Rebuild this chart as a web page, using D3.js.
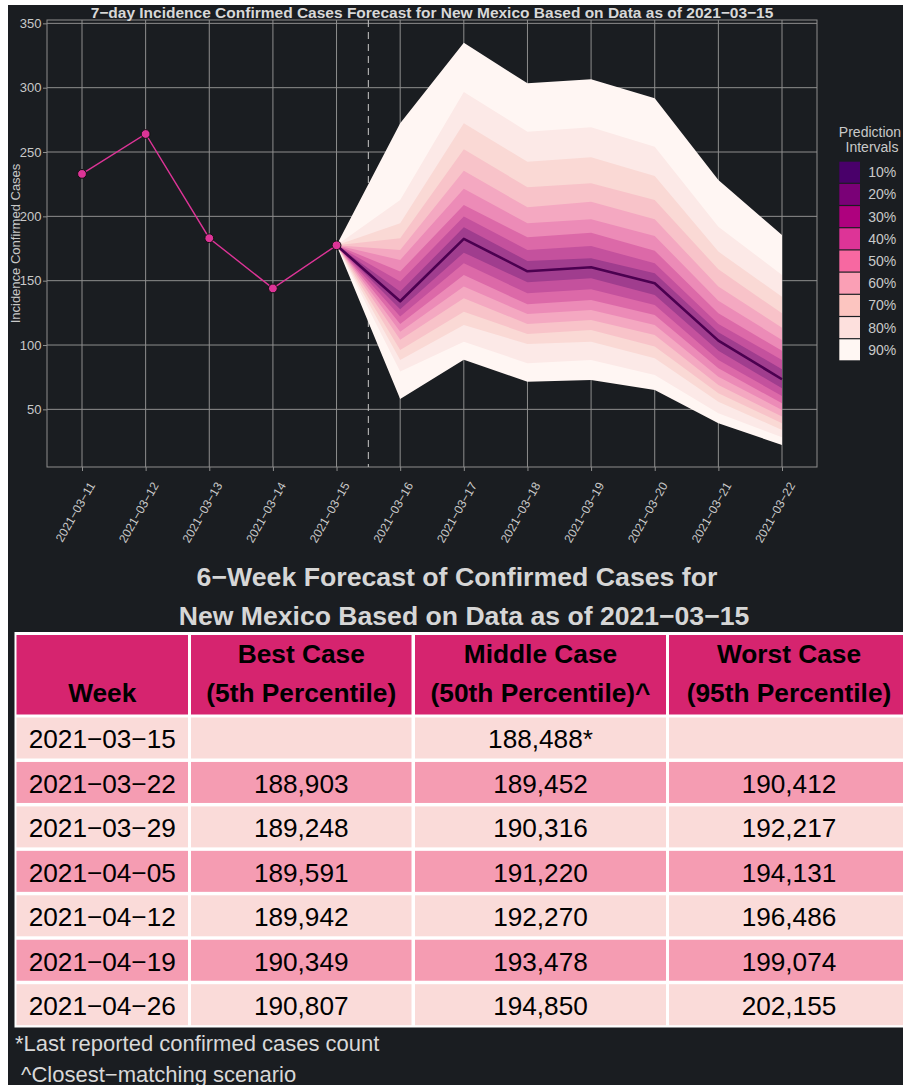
<!DOCTYPE html>
<html><head><meta charset="utf-8">
<script src="https://cdn.jsdelivr.net/npm/d3@7"></script>
<style>
html,body{margin:0;padding:0;background:#fff;}
svg{display:block;font-family:"Liberation Sans",Arial,Helvetica,sans-serif;}
</style></head><body>
<svg id="c" width="903" height="1085"></svg>
<script>
// ---------- chart data ----------
const obsDates = ["2021-03-11","2021-03-12","2021-03-13","2021-03-14","2021-03-15"];
const obsValues = [233, 264, 183, 144, 177.5];
const fcDates = ["2021-03-16","2021-03-17","2021-03-18","2021-03-19","2021-03-20","2021-03-21","2021-03-22"];
const fcMedian = [134, 182.5, 157.3, 160.4, 148, 103.4, 73.4];
const upper10 = [141.5, 191.5, 165.3, 167.4, 155.7, 109.9, 81.2];
const upper20 = [149.3, 199.8, 173.9, 177.0, 163.5, 116.4, 88.4];
const upper30 = [157.1, 208.8, 183.7, 187.3, 173.3, 124.6, 95.6];
const upper40 = [166.1, 221.5, 194.6, 197.7, 184.7, 134.5, 103.9];
const upper50 = [173.9, 235.5, 207.0, 211.4, 197.7, 145.4, 113.5];
const upper60 = [183.0, 252.1, 222.6, 225.7, 212.7, 158.8, 124.6];
const upper70 = [194.6, 272.3, 242.5, 245.9, 231.4, 172.6, 137.6];
const upper80 = [212.8, 296.6, 265.8, 269.2, 254.1, 192.0, 154.4];
const upper90 = [272.3, 335.0, 303.4, 306.5, 291.7, 228.3, 185.5];
const lower10 = [127.8, 171.8, 148.7, 151.8, 138.9, 95.6, 66.4];
const lower20 = [122.1, 163.5, 140.2, 143.3, 131.1, 88.4, 60.4];
const lower30 = [116.4, 154.4, 131.6, 135.0, 123.4, 81.9, 54.7];
const lower40 = [110.4, 145.4, 124.1, 127.2, 115.6, 75.4, 49.5];
const lower50 = [104.0, 136.3, 116.4, 119.5, 107.8, 68.9, 44.4];
const lower60 = [96.2, 125.9, 108.6, 111.7, 98.8, 62.5, 39.2];
const lower70 = [88.4, 115.6, 100.8, 102.6, 89.7, 56.0, 34.0];
const lower80 = [79.4, 102.6, 85.8, 88.4, 76.7, 47.0, 28.3];
const lower90 = [58.0, 88.6, 71.5, 72.8, 65.0, 39.2, 22.3];
const intervalLabels = ["10%","20%","30%","40%","50%","60%","70%","80%","90%"];
const yTicks = [50, 100, 150, 200, 250, 300, 350];

// ---------- table data ----------
const weekLabels = ["2021-03-15","2021-03-22","2021-03-29","2021-04-05","2021-04-12","2021-04-19","2021-04-26"];
const bestCase = [null, 188903, 189248, 189591, 189942, 190349, 190807];
const middleCase = [188488, 189452, 190316, 191220, 192270, 193478, 194850];
const worstCase = [null, 190412, 192217, 194131, 196486, 199074, 202155];
const headerLines = [["Week"],["Best Case","(5th Percentile)"],["Middle Case","(50th Percentile)^"],["Worst Case","(95th Percentile)"]];
const footnotes = ["*Last reported confirmed cases count", " ^Closest-matching scenario"];

// ---------- styles ----------
const BG = "#1a1d21";
const legendColors = d3.schemeRdPu[9].slice().reverse();
const bandColors = ["#a03d8e","#c4519d","#dc69a8","#ec8bb7","#f4a8c1","#f8c3c9","#fad9d5","#fce9e7","#fff6f3"];
const minus = s => s.replace(/-/g, "\u2212");
const parse = d3.utcParse("%Y-%m-%d");
const DAY = 864e5;

const svg = d3.select("#c");
svg.append("rect").attr("x", 8).attr("y", 5).attr("width", 895).attr("height", 1080).attr("fill", BG);

// ---------- scales ----------
const allDates = obsDates.concat(fcDates).map(parse);
const x = d3.scaleUtc()
  .domain([new Date(+allDates[0] - 0.55*DAY), new Date(+allDates[allDates.length-1] + 0.55*DAY)])
  .range([47, 817]);
const y = d3.scaleLinear().domain([5.2, 352.6]).range([467, 20]);

const gridC = "#8e8e8e";
const plot = svg.append("g");
// grid
plot.selectAll("line.gy").data(yTicks).join("line")
  .attr("x1", x.range()[0]).attr("x2", x.range()[1])
  .attr("y1", d => y(d)).attr("y2", d => y(d))
  .attr("stroke", gridC).attr("stroke-width", 1);
plot.selectAll("line.gx").data(allDates).join("line")
  .attr("x1", d => x(d)).attr("x2", d => x(d))
  .attr("y1", y.range()[0]).attr("y2", y.range()[1])
  .attr("stroke", gridC).attr("stroke-width", 1);
// panel border
plot.append("rect").attr("x", 47).attr("y", 20).attr("width", 770).attr("height", 447)
  .attr("fill", "none").attr("stroke", gridC).attr("stroke-width", 1);

// forecast split dashed line
const splitDate = new Date((+parse(obsDates[obsDates.length-1]) + +parse(fcDates[0])) / 2);
plot.append("line").attr("x1", x(splitDate)).attr("x2", x(splitDate))
  .attr("y1", 20).attr("y2", 467)
  .attr("stroke", "#b8b8b8").attr("stroke-width", 1.1).attr("stroke-dasharray", "7,5");

// bands
const uppers = [upper10, upper20, upper30, upper40, upper50, upper60, upper70, upper80, upper90];
const lowers = [lower10, lower20, lower30, lower40, lower50, lower60, lower70, lower80, lower90];
const anchorDate = parse(obsDates[obsDates.length-1]);
const anchorVal = obsValues[obsValues.length-1];
const area = d3.area().x(d => x(d.date)).y0(d => y(d.lo)).y1(d => y(d.hi));
for (let i = 8; i >= 0; i--) {
  const pts = [{date: anchorDate, lo: anchorVal, hi: anchorVal}]
    .concat(fcDates.map((d, j) => ({date: parse(d), lo: lowers[i][j], hi: uppers[i][j]})));
  plot.append("path").datum(pts).attr("d", area).attr("fill", bandColors[i]);
}
// median
const medPts = [{date: anchorDate, v: anchorVal}].concat(fcDates.map((d, j) => ({date: parse(d), v: fcMedian[j]})));
plot.append("path").datum(medPts)
  .attr("d", d3.line().x(d => x(d.date)).y(d => y(d.v)))
  .attr("fill", "none").attr("stroke", "#4b0150").attr("stroke-width", 2.6).attr("stroke-linejoin", "round");
// observed
const obsPts = obsDates.map((d, i) => ({date: parse(d), v: obsValues[i]}));
plot.append("path").datum(obsPts)
  .attr("d", d3.line().x(d => x(d.date)).y(d => y(d.v)))
  .attr("fill", "none").attr("stroke", "#dd3497").attr("stroke-width", 1.4);
plot.selectAll("circle.obs").data(obsPts).join("circle")
  .attr("cx", d => x(d.date)).attr("cy", d => y(d.v)).attr("r", 4.4)
  .attr("fill", "#dd3497").attr("stroke", "#111").attr("stroke-width", 1);

// axes
const txtC = "#c9c9c9";
const yAxis = svg.append("g").attr("transform", "translate(47,0)")
  .call(d3.axisLeft(y).tickValues(yTicks).tickSize(4).tickPadding(1.5));
const xAxis = svg.append("g").attr("transform", "translate(0,467)")
  .call(d3.axisBottom(x).tickValues(allDates).tickSize(4).tickFormat(d => minus(d3.utcFormat("%Y-%m-%d")(d))));
[yAxis, xAxis].forEach(a => {
  a.select(".domain").remove();
  a.selectAll(".tick line").attr("stroke", gridC);
  a.selectAll("text").attr("fill", txtC).attr("font-family", "Liberation Sans, Arial, sans-serif");
});
yAxis.selectAll("text").attr("font-size", 13);
xAxis.selectAll("text").attr("font-size", 12)
  .attr("text-anchor", "end").attr("y", 0).attr("dy", "0.72em")
  .attr("transform", "translate(5.5,14) rotate(-60)");

// y title
svg.append("text").attr("transform", "translate(20,243.5) rotate(-90)")
  .attr("text-anchor", "middle").attr("font-size", 13).attr("fill", txtC)
  .text("Incidence Confirmed Cases");
// title
svg.append("text").attr("x", 432).attr("y", 18).attr("text-anchor", "middle")
  .attr("font-size", 15.5).attr("font-weight", "bold").attr("fill", "#d8d8d8")
  .text(minus("7-day Incidence Confirmed Cases Forecast for New Mexico Based on Data as of 2021-03-15"));

// legend
const lg = svg.append("g");
lg.append("text").attr("x", 870).attr("y", 137).attr("text-anchor", "middle")
  .attr("font-size", 14).attr("fill", txtC).text("Prediction");
lg.append("text").attr("x", 872).attr("y", 152).attr("text-anchor", "middle")
  .attr("font-size", 14).attr("fill", txtC).text("Intervals");
const lgi = lg.selectAll("g.k").data(intervalLabels).join("g")
  .attr("transform", (d, i) => `translate(839.3,${161.7 + i*22.2})`);
lgi.append("rect").attr("width", 20.7).attr("height", 21).attr("fill", (d, i) => legendColors[i]);
lgi.append("text").attr("x", 29).attr("y", 10.5).attr("dy", "0.36em")
  .attr("font-size", 14).attr("fill", txtC).text(d => d);

// ---------- table ----------
svg.append("text").attr("x", 457).attr("y", 586).attr("text-anchor", "middle")
  .attr("font-size", 26.7).attr("font-weight", "bold").attr("fill", "#d6d6d6")
  .text(minus("6-Week Forecast of Confirmed Cases for"));
svg.append("text").attr("x", 464).attr("y", 624.5).attr("text-anchor", "middle")
  .attr("font-size", 26.6).attr("font-weight", "bold").attr("fill", "#d6d6d6")
  .text(minus("New Mexico Based on Data as of 2021-03-15"));

const colX = [16.5, 191, 415, 669];
const colW = [171.5, 220.5, 251, 240];
const tbl = svg.append("g");
tbl.append("rect").attr("x", 14.5).attr("y", 632).attr("width", 895).attr("height", 395.5).attr("fill", "#ffffff");
const fmt = d3.format(",");
// header
headerLines.forEach((lines, c) => {
  tbl.append("rect").attr("x", colX[c]).attr("y", 635).attr("width", colW[c]).attr("height", 79.5).attr("fill", "#d6246f");
  const base = lines.length === 1 ? [701.7] : [663.3, 701.7];
  lines.forEach((t, k) => {
    tbl.append("text").attr("x", colX[c] + colW[c]/2).attr("y", base[k]).attr("text-anchor", "middle")
      .attr("font-size", 26.3).attr("font-weight", "bold").attr("fill", "#000").text(t);
  });
});
// body
const rowColors = ["#fadbd9", "#f59cb2"];
weekLabels.forEach((w, r) => {
  const top = 717.5 + r*44.45;
  const cells = [minus(w),
    bestCase[r] == null ? "" : fmt(bestCase[r]),
    fmt(middleCase[r]) + (r === 0 ? "*" : ""),
    worstCase[r] == null ? "" : fmt(worstCase[r])];
  cells.forEach((t, c) => {
    tbl.append("rect").attr("x", colX[c]).attr("y", top).attr("width", colW[c]).attr("height", 41)
      .attr("fill", rowColors[r % 2]);
    tbl.append("text").attr("x", colX[c] + colW[c]/2).attr("y", top + 30.8).attr("text-anchor", "middle")
      .attr("font-size", 26.2).attr("fill", "#000").text(t);
  });
});
// footnotes
svg.append("text").attr("x", 15).attr("y", 1050.5).attr("font-size", 22).attr("fill", "#d8d8d8")
  .style("white-space", "pre").text(minus(footnotes[0]));
svg.append("text").attr("x", 15).attr("y", 1081.5).attr("font-size", 22).attr("fill", "#d8d8d8")
  .style("white-space", "pre").text(minus(footnotes[1]));
</script>
</body></html>
